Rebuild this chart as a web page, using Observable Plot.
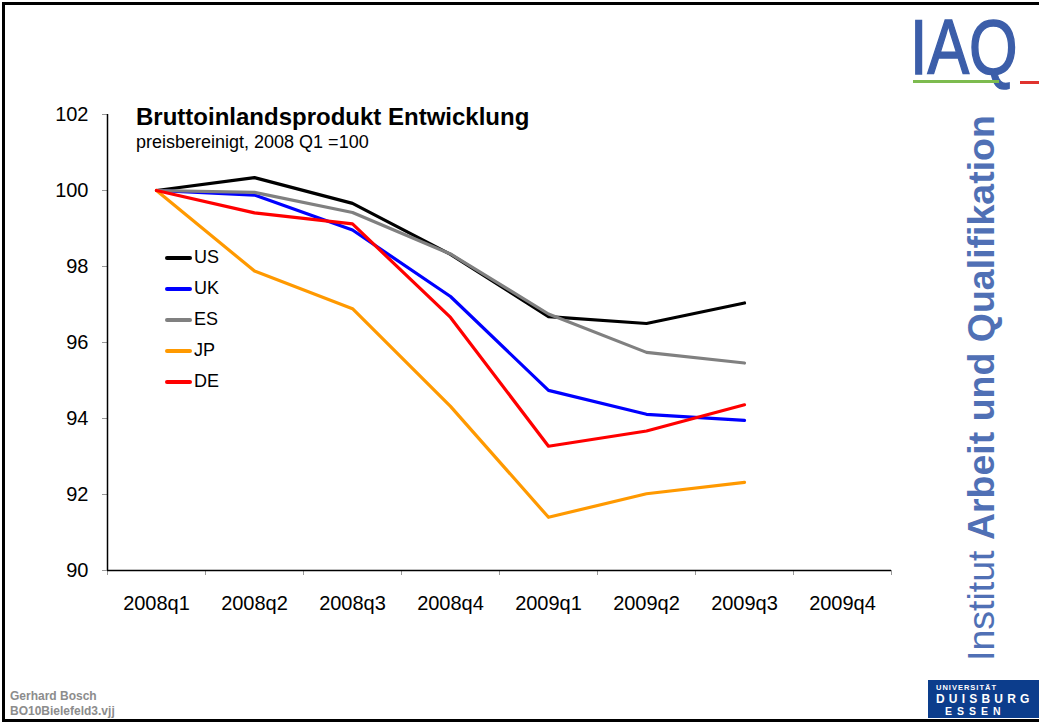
<!DOCTYPE html>
<html>
<head>
<meta charset="utf-8">
<script src="https://cdn.jsdelivr.net/npm/d3@7"></script>
<script src="https://cdn.jsdelivr.net/npm/@observablehq/plot@0.6"></script>
<style>
  html, body { margin: 0; padding: 0; background: #fff; }
  body { font-family: "Liberation Sans", Arial, Helvetica, sans-serif; }
  #slide { position: relative; width: 1039px; height: 722px; overflow: hidden; background: #fff; }
  #frame { position: absolute; left: 2px; top: 2px; width: 1040px; height: 714px; border: 3px solid #000; box-sizing: content-box; }
  #chart { position: absolute; left: 0; top: 0; }
  .abs { position: absolute; white-space: nowrap; }
  #title { left: 136px; top: 103px; font-size: 24px; line-height: 28px; font-weight: bold; color: #000; }
  #subtitle { left: 136px; top: 131px; font-size: 18px; line-height: 22px; color: #000; }
  #legend { left: 165px; top: 242px; font-size: 18px; color: #000; }
  #legend .row { height: 31px; display: flex; align-items: center; }
  #legend .sw { width: 27px; height: 4px; border-radius: 2px; margin-right: 2px; }
  #iaq { left: 906px; top: 0px; }
  #iaq text { font-size: 78px; font-family: "Liberation Sans", Arial, sans-serif; fill: #3c5ea9; stroke: #3c5ea9; stroke-width: 1.6px; }
  #greenline { left: 913px; top: 80px; width: 86px; height: 3px; background: #7dbb4f; }
  #redline { left: 1020px; top: 81px; width: 19px; height: 3px; background: #e0332e; }
  #vert { left: 959px; top: 661px; font-size: 37.5px; line-height: 44px; color: #5070b5; transform-origin: 0 0; transform: rotate(-90deg); }
  #foot { left: 10px; top: 689px; font-size: 12px; font-weight: bold; color: #8c8c8c; line-height: 15px; }
  #ude { left: 928px; top: 680px; width: 112px; height: 38px; background: #0c3d8c; }
  #ude .u { position: absolute; left: 8px; top: 4px; font-size: 7.5px; line-height: 8px; font-weight: bold; color: #fff; letter-spacing: 1px; }
  #ude .d { position: absolute; left: 8px; top: 14px; font-size: 12px; line-height: 11px; font-weight: bold; color: #fff; letter-spacing: 4.2px; }
  #ude .e { position: absolute; left: 17px; top: 26px; font-size: 10.5px; line-height: 10px; font-weight: bold; color: #fff; letter-spacing: 5px; }
</style>
</head>
<body>
<div id="slide">
  <div id="frame"></div>
  <div id="chart"></div>
  <div class="abs" id="title">Bruttoinlandsprodukt Entwicklung</div>
  <div class="abs" id="subtitle">preisbereinigt, 2008 Q1 =100</div>
  <div class="abs" id="legend"></div>
  <svg class="abs" id="iaq" width="133" height="100" viewBox="0 0 133 100">
    <text transform="translate(4,74) scale(0.8,1)">I</text>
    <text transform="translate(21.4,74) scale(0.8,1)">A</text>
    <text transform="translate(63,74) scale(0.8,1)">Q</text>
  </svg>
  <div class="abs" id="greenline"></div>
  <div class="abs" id="redline"></div>
  <div class="abs" id="vert">Institut <b>Arbeit und Qualifikation</b></div>
  <div class="abs" id="foot">Gerhard Bosch<br>BO10Bielefeld3.vjj</div>
  <div class="abs" id="ude">
    <div class="u">UNIVERSITÄT</div>
    <div class="d">DUISBURG</div>
    <div class="e">ESSEN</div>
  </div>
</div>
<script>
// ---- Data ----
const quarters = ["2008q1", "2008q2", "2008q3", "2008q4", "2009q1", "2009q2", "2009q3", "2009q4"];
const countries = ["US", "UK", "ES", "JP", "DE"];
const colors = ["#000000", "#0000ff", "#808080", "#ff9900", "#ff0000"];
const US = [100, 100.34, 99.66, 98.32, 96.68, 96.50, 97.04];
const UK = [100, 99.88, 98.96, 97.21, 94.74, 94.11, 93.95];
const ES = [100, 99.95, 99.42, 98.33, 96.75, 95.74, 95.46];
const JP = [100, 97.88, 96.89, 94.32, 91.40, 92.02, 92.32];
const DE = [100, 99.41, 99.12, 96.66, 93.27, 93.67, 94.36];
const yTicks = [90, 92, 94, 96, 98, 100, 102];

const seriesByCountry = { US, UK, ES, JP, DE };
const rows = [];
countries.forEach(c => {
  seriesByCountry[c].forEach((v, i) => rows.push({ country: c, xi: i + 0.5, quarter: quarters[i], value: v }));
});

const chart = Plot.plot({
  width: 900,
  height: 640,
  marginLeft: 107,
  marginRight: 9,
  marginTop: 114,
  marginBottom: 70,
  style: { fontFamily: "'Liberation Sans', Arial, Helvetica, sans-serif", fontSize: "20px", background: "transparent", overflow: "visible" },
  x: { domain: [0, quarters.length], axis: null },
  y: { domain: [90, 102], axis: null },
  color: { domain: countries, range: colors },
  marks: [
    Plot.axisY({ ticks: yTicks, tickSize: 5, tickPadding: 14, stroke: "#999", fill: "#000", fontSize: 20, label: null }),
    Plot.axisX({ ticks: d3.range(0, quarters.length + 1), tickFormat: () => "", tickSize: 5, stroke: "#999", label: null }),
    Plot.axisX({ ticks: quarters.map((q, i) => i + 0.5), tickFormat: d => quarters[Math.floor(d)], tickSize: 0, tickPadding: 25, fill: "#000", fontSize: 20, label: null }),
    Plot.ruleX([0], { stroke: "#000", strokeWidth: 1.5 }),
    Plot.ruleY([90], { stroke: "#000", strokeWidth: 1.5 }),
    Plot.line(rows, { x: "xi", y: "value", z: "country", stroke: "country", strokeWidth: 3.2, strokeLinejoin: "round", strokeLinecap: "round" })
  ]
});
document.getElementById("chart").appendChild(chart);

// legend
const leg = document.getElementById("legend");
countries.forEach((c, i) => {
  const r = document.createElement("div");
  r.className = "row";
  r.innerHTML = `<span class="sw" style="background:${colors[i]}"></span><span>${c}</span>`;
  leg.appendChild(r);
});
</script>
</body>
</html>
